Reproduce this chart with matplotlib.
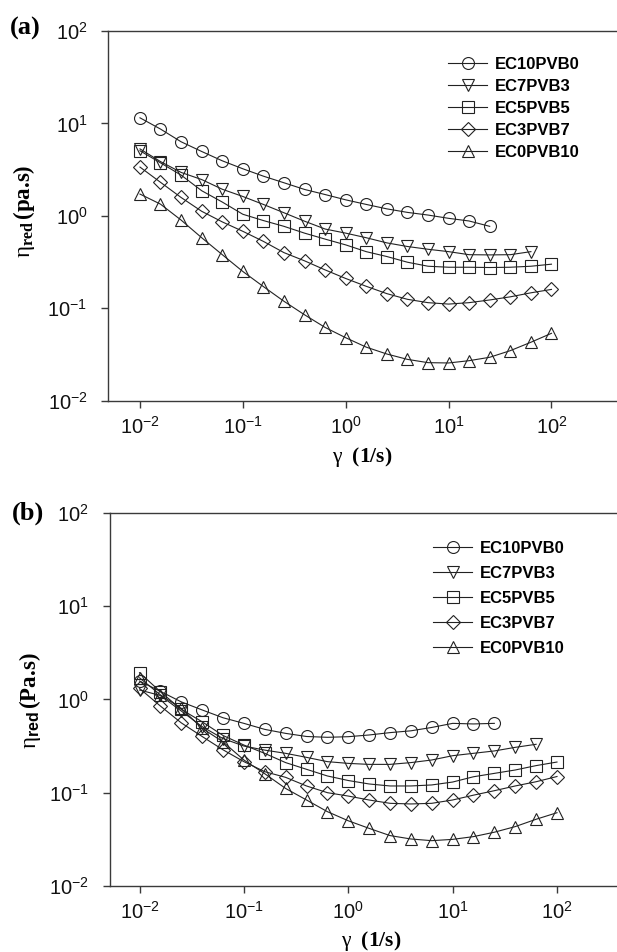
import matplotlib
matplotlib.use('Agg')
import matplotlib.pyplot as plt
from matplotlib.ticker import NullLocator, LogFormatterMathtext
from matplotlib.font_manager import FontProperties

plt.rcParams['font.family'] = ['Liberation Sans', 'DejaVu Sans']
plt.rcParams['axes.unicode_minus'] = False
plt.rcParams['mathtext.fontset'] = 'custom'
plt.rcParams['mathtext.rm'] = 'Liberation Serif'
plt.rcParams['mathtext.it'] = 'Liberation Serif:italic'
plt.rcParams['mathtext.bf'] = 'Liberation Serif:bold'
plt.rcParams['mathtext.sf'] = 'Liberation Sans:bold'

# shear rates (1/s), five points per decade
shear = [0.01, 0.0158, 0.0251, 0.0398, 0.0631, 0.1, 0.158, 0.251, 0.398, 0.631,
         1.0, 1.58, 2.51, 3.98, 6.31, 10.0, 15.8, 25.1, 39.8, 63.1, 100.0]

labels = ['EC10PVB0', 'EC7PVB3', 'EC5PVB5', 'EC3PVB7', 'EC0PVB10']
markers = ['o', 'v', 's', 'D', '^']
msizes = [8.6, 8.8, 8.2, 7.2, 8.8]

# (a) reduced viscosity
a_ec10 = [11.5, 8.7, 6.33, 4.97, 3.94, 3.23, 2.69, 2.28, 1.93, 1.70, 1.49, 1.33,
          1.19, 1.09, 1.02, 0.94, 0.88, 0.77]
a_ec7 = [5.3, 3.87, 2.95, 2.47, 1.94, 1.62, 1.33, 1.08, 0.875, 0.72, 0.65, 0.58,
         0.51, 0.466, 0.435, 0.41, 0.38, 0.378, 0.38, 0.41]
a_ec5 = [5.06, 3.75, 2.76, 1.87, 1.41, 1.04, 0.89, 0.77, 0.65, 0.56, 0.485, 0.41,
         0.363, 0.315, 0.285, 0.278, 0.278, 0.276, 0.278, 0.285, 0.30]
a_ec3 = [3.37, 2.31, 1.58, 1.12, 0.86, 0.68, 0.53, 0.40, 0.326, 0.26, 0.21, 0.173,
         0.144, 0.125, 0.115, 0.111, 0.115, 0.123, 0.133, 0.147, 0.16]
a_ec0 = [1.72, 1.34, 0.90, 0.58, 0.38, 0.25, 0.172, 0.119, 0.085, 0.062, 0.048,
         0.038, 0.032, 0.028, 0.0258, 0.0256, 0.0271, 0.0295, 0.0348, 0.0429, 0.0536]

# (b) reduced viscosity
b_ec10 = [1.57, 1.22, 0.94, 0.77, 0.635, 0.553, 0.477, 0.432, 0.40, 0.392, 0.398,
          0.415, 0.44, 0.46, 0.50, 0.553, 0.545, 0.553]
b_ec7 = [1.26, 1.1, 0.75, 0.51, 0.38, 0.316, 0.286, 0.264, 0.239, 0.215, 0.206,
         0.201, 0.201, 0.21, 0.224, 0.249, 0.264, 0.28, 0.306, 0.33]
b_ec5 = [1.93, 1.21, 0.78, 0.575, 0.41, 0.324, 0.264, 0.21, 0.178, 0.151, 0.135,
         0.124, 0.118, 0.118, 0.121, 0.13, 0.148, 0.161, 0.175, 0.195, 0.213]
b_ec3 = [1.31, 0.85, 0.56, 0.40, 0.288, 0.215, 0.168, 0.146, 0.118, 0.10, 0.092,
         0.0835, 0.0769, 0.0757, 0.0769, 0.0835, 0.094, 0.105, 0.118, 0.131, 0.149]
b_ec0 = [1.7, 1.12, 0.80, 0.49, 0.35, 0.224, 0.16, 0.111, 0.0835, 0.0626, 0.05,
         0.0415, 0.0347, 0.0319, 0.0306, 0.0316, 0.0338, 0.0377, 0.0433, 0.0519, 0.061]

decades = [1e-2, 1e-1, 1e0, 1e1, 1e2]
ink = '#222222'
axcol = '#3a3a3a'

W, H = 617, 952
fig = plt.figure(figsize=(W / 100, H / 100), dpi=100)


def panel(rect, series, xlim, ylabel, leg_anchor, leg_spacing):
    l, t, r, b = rect
    ax = fig.add_axes([l / W, 1 - b / H, (r - l) / W, (b - t) / H])
    for vals, m, ms, lab in zip(series, markers, msizes, labels):
        ax.plot(shear[:len(vals)], vals, color=ink, lw=0.8, marker=m, ms=ms,
                mfc='none', mec=ink, mew=0.8, label=lab)
    ax.set_xscale('log')
    ax.set_yscale('log')
    ax.set_xlim(xlim)
    ax.set_ylim(1e-2, 1e2)
    ax.set_xticks(decades)
    ax.set_yticks(decades)
    ax.xaxis.set_minor_locator(NullLocator())
    ax.yaxis.set_minor_locator(NullLocator())
    ax.xaxis.set_major_formatter(LogFormatterMathtext())
    ax.yaxis.set_major_formatter(LogFormatterMathtext())
    ax.spines['right'].set_visible(False)
    for s in ['left', 'bottom', 'top']:
        ax.spines[s].set_color(axcol)
        ax.spines[s].set_linewidth(1.0)
    ax.tick_params(axis='both', which='major', direction='out', length=5,
                   width=1, color=axcol, labelsize=14.5, labelcolor='#111111')
    ax.tick_params(axis='x', pad=6)
    ax.tick_params(axis='y', pad=10)
    ax.set_xlabel(r'$\mathrm{\gamma}\ \ \mathbf{(1/s)}$', fontsize=15.5, va='center')
    ax.set_ylabel(ylabel, fontsize=16.5)
    ax.legend(loc='upper left', bbox_to_anchor=leg_anchor,
              bbox_transform=fig.transFigure, frameon=False,
              prop=FontProperties(family='Liberation Sans', weight='bold', size=12),
              handlelength=2.35, handletextpad=0.45, labelspacing=leg_spacing,
              borderpad=0, borderaxespad=0)
    return ax


# mathtext pads a dot with a small space; \hspace pulls "s" back against it
ax_a = panel((108.3, 31, 617, 400.7), [a_ec10, a_ec7, a_ec5, a_ec3, a_ec0],
             (10 ** -2.308, 10 ** 2.637),
             r'$\mathrm{\eta}_{\mathbf{red}}\,\mathbf{(pa.}\hspace{-0.2}\mathbf{s)}$',
             (448 / W, 1 - 57 / H), 0.42)
ax_a.xaxis.set_label_coords(0.499, -0.152)
ax_a.yaxis.set_label_coords(-0.14, 0.513)

ax_b = panel((110, 512.7, 617, 886), [b_ec10, b_ec7, b_ec5, b_ec3, b_ec0],
             (10 ** -2.283, 10 ** 2.575),
             r'$\mathrm{\eta}_{\mathsf{red}}\,\mathbf{(Pa.}\hspace{-0.2}\mathbf{s)}$',
             (433 / W, 1 - 541 / H), 0.6)
ax_b.xaxis.set_label_coords(0.515, -0.148)
ax_b.yaxis.set_label_coords(-0.132, 0.496)

fig.text(10 / W, 1 - 28 / H, '(a)', family='Liberation Serif', weight='bold',
         fontsize=19, va='center', ha='left')
fig.text(12 / W, 1 - 513 / H, '(b)', family='Liberation Serif', weight='bold',
         fontsize=19, va='center', ha='left')

fig.savefig('out.png', dpi=100)
